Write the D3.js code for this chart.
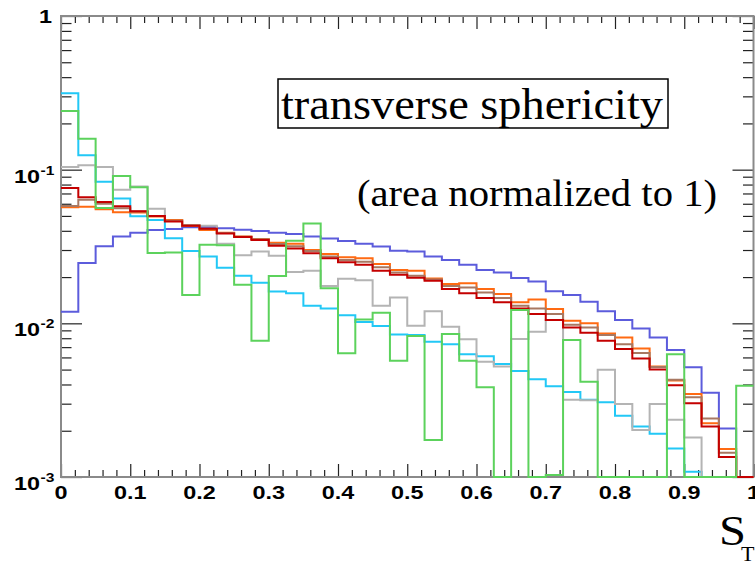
<!DOCTYPE html>
<html>
<head>
<meta charset="utf-8">
<script src="https://cdn.jsdelivr.net/npm/d3@7/dist/d3.min.js"></script>
<style>
  body { margin: 0; background: #fff; }
  svg { display: block; }
</style>
</head>
<body>
<script>
// Histogram binning: 40 bins over S_T in [0, 1]
const binLow = 0;
const binHigh = 1;
const nBins = 40;

// Axis ticks and labels
const xTickValues = [0, 0.1, 0.2, 0.3, 0.4, 0.5, 0.6, 0.7, 0.8, 0.9, 1];
const xTickLabels = ["0", "0.1", "0.2", "0.3", "0.4", "0.5", "0.6", "0.7", "0.8", "0.9", "1"];
const yDecades = [1, 0.1, 0.01, 0.001];
const yDecadeExponents = ["", "-1", "-2", "-3"];

// Area-normalised bin contents per sample (0 = empty bin)
const purpleSeries = [0.0119, 0.0247, 0.0318, 0.0367, 0.0389, 0.0405, 0.0411, 0.0422, 0.0423, 0.0416,
  0.0407, 0.0399, 0.0389, 0.0382, 0.0367, 0.0356, 0.0344, 0.0329, 0.0316, 0.0297,
  0.0293, 0.0272, 0.0258, 0.0241, 0.0222, 0.0214, 0.0197, 0.0187, 0.0162, 0.0153,
  0.0138, 0.0120, 0.0105, 0.00924, 0.0081, 0.00671, 0.00518, 0.00354, 0.00207, 0];
const cyanSeries = [0.314, 0.124, 0.0835, 0.0648, 0.0497, 0.047, 0.0358, 0.0296, 0.0272, 0.0230,
  0.0204, 0.0184, 0.0161, 0.0157, 0.0130, 0.0125, 0.0113, 0.0102, 0.0096, 0.00845,
  0.0084, 0.0076, 0.0073, 0.0063, 0.0061, 0.00544, 0.0049, 0.00433, 0.0039, 0.00358,
  0.00318, 0.00307, 0.0025, 0.00213, 0.00191, 0.00153, 0.00108, 0, 0, 0];
const graySeries = [0.104, 0.107, 0.104, 0.0741, 0.0776, 0.0556, 0.047, 0.0434, 0.0431, 0.0329,
  0.0277, 0.0293, 0.0275, 0.0216, 0.0220, 0.0175, 0.0195, 0.0191, 0.0130, 0.0147,
  0.00966, 0.0120, 0.0095, 0.00787, 0.00563, 0.00523, 0.0079, 0.00883, 0.0105, 0.00318,
  0.00316, 0.00498, 0.00299, 0.00202, 0.00299, 0.00236, 0.00181, 0, 0, 0];
const orangeSeries = [0.0569, 0.0574, 0.0552, 0.0528, 0.0526, 0.0495, 0.0471, 0.0432, 0.0405, 0.0389,
  0.0367, 0.0354, 0.0335, 0.0329, 0.0300, 0.0283, 0.0269, 0.0265, 0.0243, 0.0222,
  0.0220, 0.0196, 0.0180, 0.0182, 0.0167, 0.0155, 0.0137, 0.0143, 0.0124, 0.0104,
  0.0100, 0.0086, 0.0081, 0.00685, 0.00523, 0.00424, 0.00347, 0.00224, 0.00152, 0];
const brownSeries = [0.058, 0.0636, 0.060, 0.056, 0.0535, 0.050, 0.0465, 0.0435, 0.0412, 0.0387,
  0.0366, 0.0352, 0.0328, 0.0317, 0.0296, 0.0272, 0.0258, 0.0252, 0.0232, 0.0214,
  0.0204, 0.0193, 0.0175, 0.0171, 0.0159, 0.0146, 0.0130, 0.0125, 0.0115, 0.0098,
  0.0094, 0.0084, 0.0073, 0.0064, 0.0052, 0.0043, 0.0033, 0.0024, 0.00144, 0];
const redSeries = [0.0760, 0.0661, 0.0616, 0.0578, 0.0536, 0.0500, 0.0460, 0.0432, 0.0413, 0.0384,
  0.0365, 0.0349, 0.0320, 0.0307, 0.0286, 0.0265, 0.0250, 0.0241, 0.0220, 0.0207,
  0.0198, 0.0189, 0.0167, 0.0157, 0.0146, 0.0137, 0.0125, 0.0115, 0.0105, 0.0094,
  0.0087, 0.0077, 0.0068, 0.0059, 0.0050, 0.00396, 0.00302, 0.00213, 0.00135, 0];
const greenSeries = [0.241, 0.159, 0.0563, 0.091, 0.0768, 0.0287, 0.0289, 0.0153, 0.0325, 0.0322,
  0.0178, 0.0077, 0.0203, 0.0345, 0.0446, 0.0169, 0.00639, 0.0106, 0.0117, 0.0057,
  0.00828, 0.00174, 0.00853, 0.0057, 0.00384, 0, 0.0122, 0, 0.00103, 0.0078,
  0.00416, 0, 0, 0, 0, 0.0063, 0, 0, 0, 0.00393];

const seriesList = [purpleSeries, cyanSeries, graySeries, orangeSeries, brownSeries, redSeries, greenSeries];
const seriesColors = ["#5c5cdc", "#22c8f6", "#b4b4b4", "#ff6a12", "#a87862", "#c40000", "#5cd25c"];

const W = 755, H = 562;
const frame = { left: 61, right: 753.5, top: 16, bottom: 477 };

const svg = d3.select("body").append("svg")
  .attr("width", W).attr("height", H)
  .style("font-family", "'Liberation Sans', Arial, sans-serif");

svg.append("rect").attr("width", W).attr("height", H).attr("fill", "#fff");

const x = d3.scaleLinear().domain([binLow, binHigh]).range([frame.left, frame.right]);
const y = d3.scaleLog().domain([1e-3, 1]).range([frame.bottom, frame.top]);

// Tick positions
const xMinor = d3.range(0, 51).map(i => i / 50).filter(v => Math.round(v * 50) % 5 !== 0);
const yMinor = [];
yDecades.slice(1).forEach(d => { for (let k = 2; k <= 9; k++) yMinor.push(d * k); });

const tickColor = "#222";
function styleAxis(g) {
  g.select(".domain").remove();
  g.selectAll(".tick line").attr("stroke", tickColor).attr("stroke-width", 1.2);
  g.selectAll(".tick text").remove();
}

// Bottom (ticks pointing up) and top (ticks pointing down)
svg.append("g").attr("transform", `translate(0,${frame.bottom})`)
  .call(d3.axisBottom(x).tickValues(xTickValues).tickSize(-13)).call(styleAxis);
svg.append("g").attr("transform", `translate(0,${frame.bottom})`)
  .call(d3.axisBottom(x).tickValues(xMinor).tickSize(-7)).call(styleAxis);
svg.append("g").attr("transform", `translate(0,${frame.top})`)
  .call(d3.axisTop(x).tickValues(xTickValues).tickSize(-13)).call(styleAxis);
svg.append("g").attr("transform", `translate(0,${frame.top})`)
  .call(d3.axisTop(x).tickValues(xMinor).tickSize(-7)).call(styleAxis);

// Left (ticks pointing right) and right (ticks pointing left)
svg.append("g").attr("transform", `translate(${frame.left},0)`)
  .call(d3.axisLeft(y).tickValues(yDecades).tickSize(-21)).call(styleAxis);
svg.append("g").attr("transform", `translate(${frame.left},0)`)
  .call(d3.axisLeft(y).tickValues(yMinor).tickSize(-10.5)).call(styleAxis);
svg.append("g").attr("transform", `translate(${frame.right},0)`)
  .call(d3.axisRight(y).tickValues(yDecades).tickSize(-21)).call(styleAxis);
svg.append("g").attr("transform", `translate(${frame.right},0)`)
  .call(d3.axisRight(y).tickValues(yMinor).tickSize(-10.5)).call(styleAxis);

// Frame
svg.append("rect")
  .attr("x", frame.left).attr("y", frame.top)
  .attr("width", frame.right - frame.left).attr("height", frame.bottom - frame.top)
  .attr("fill", "none").attr("stroke", "#8a8a8a").attr("stroke-width", 2);

// Bold, slightly wide tick labels
const stretch = 1.3;
function label(px, py, txt, size, anchor) {
  svg.append("g").attr("transform", `translate(${px},${py}) scale(${stretch},1)`)
    .append("text").attr("text-anchor", anchor)
    .attr("font-size", size).attr("font-weight", "bold").attr("fill", "#000")
    .text(txt);
}

xTickValues.forEach((v, i) => label(x(v), 499, xTickLabels[i], 18, "middle"));

yDecades.forEach((d, i) => {
  const ty = y(d);
  if (yDecadeExponents[i] === "") {
    label(52, ty + 7, "1", 18, "end");
  } else {
    label(40, ty + 13, "10", 18, "end");
    label(40.5, ty + 5, yDecadeExponents[i], 12, "start");
  }
});

// Histogram outlines as steps
const binWidth = (binHigh - binLow) / nBins;
const yFloor = 1e-3;
const step = d3.line()
  .x(d => x(d[0]))
  .y(d => y(Math.max(d[1], yFloor)))
  .curve(d3.curveStepAfter);

seriesList.forEach((vals, si) => {
  const pts = vals.map((v, i) => [binLow + i * binWidth, v]);
  pts.push([binHigh, vals[vals.length - 1]]);
  svg.append("path")
    .datum(pts)
    .attr("d", step)
    .attr("fill", "none")
    .attr("stroke", seriesColors[si])
    .attr("stroke-width", 2)
    .attr("stroke-linejoin", "miter");
});

// Title box
const serif = "'Liberation Serif', 'Times New Roman', serif";
svg.append("rect")
  .attr("x", 278).attr("y", 79).attr("width", 390).attr("height", 49)
  .attr("fill", "#fff").attr("stroke", "#000").attr("stroke-width", 1.5);
svg.append("text")
  .attr("x", 281).attr("y", 119)
  .attr("font-family", serif).attr("font-size", 44)
  .attr("textLength", 382).attr("lengthAdjust", "spacingAndGlyphs")
  .text("transverse sphericity");

svg.append("text")
  .attr("x", 357).attr("y", 206)
  .attr("font-family", serif).attr("font-size", 37)
  .attr("textLength", 360).attr("lengthAdjust", "spacingAndGlyphs")
  .text("(area normalized to 1)");

// Axis title S_T
svg.append("text")
  .attr("x", 719).attr("y", 545)
  .attr("font-family", serif).attr("font-size", 42)
  .attr("textLength", 27).attr("lengthAdjust", "spacingAndGlyphs")
  .text("S");
svg.append("text")
  .attr("x", 741).attr("y", 561)
  .attr("font-family", serif).attr("font-size", 22)
  .text("T");
</script>
</body>
</html>
